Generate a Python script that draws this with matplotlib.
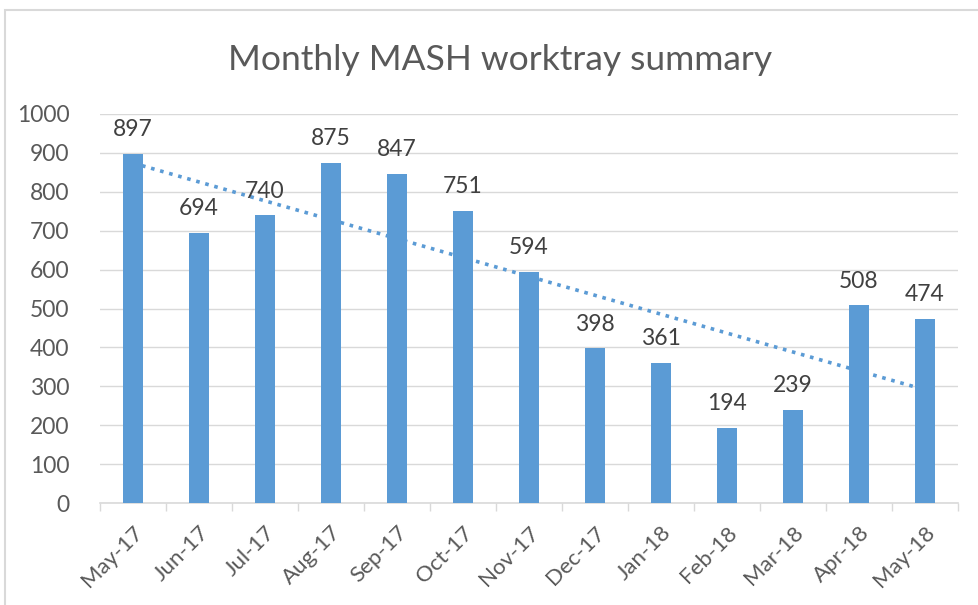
import numpy as np
import matplotlib.pyplot as plt
from matplotlib.patches import Rectangle

# chart data
months = ["May-17", "Jun-17", "Jul-17", "Aug-17", "Sep-17", "Oct-17", "Nov-17",
          "Dec-17", "Jan-18", "Feb-18", "Mar-18", "Apr-18", "May-18"]
counts = [897, 694, 740, 875, 847, 751, 594, 398, 361, 194, 239, 508, 474]
yticks = [0, 100, 200, 300, 400, 500, 600, 700, 800, 900, 1000]

plt.rcParams['font.family'] = ['Lato', 'DejaVu Sans']
grey = '#595959'
blue = '#5b9bd5'

fig = plt.figure(figsize=(9.79, 6.05), dpi=100)

# light chart frame (cut off on the right and bottom)
fig.patches.append(Rectangle((5/979, -0.1), 1.1, 1 - 10/605 + 0.1,
                             transform=fig.transFigure, fill=False,
                             edgecolor='#d9d9d9', linewidth=1.5))

ax = fig.add_axes([100/979, 1 - 503/605, 858/979, 389/605])

x = np.arange(len(months))
ax.bar(x, counts, width=0.3, color=blue, zorder=4)

# linear trendline, like Excel's (drawn behind the bars)
k, b = np.polyfit(x, counts, 1)
ax.plot(x, k*x + b, linestyle=(0, (1, 1.6)), color=blue, linewidth=2.6,
        zorder=3)

for xi, v in zip(x, counts):
    ax.text(xi, v + 35, str(v), ha='center', va='bottom', fontsize=16.5,
            color='#404040')

ax.set_xlim(-0.5, len(months) - 0.5)
ax.set_ylim(0, 1000)
ax.set_yticks(yticks)
ax.set_yticklabels([str(t) for t in yticks], fontsize=16.5, color=grey)
ax.set_xticks(x)
ax.set_xticklabels(months, rotation=45, ha='right', rotation_mode='anchor',
                   fontsize=16, color=grey)
ax.tick_params(axis='x', length=0, pad=14)
ax.tick_params(axis='y', length=0, pad=22)
ax.set_xticks(np.arange(-0.5, len(months)), minor=True)
ax.tick_params(axis='x', which='minor', length=6, color='#d9d9d9', width=1)

ax.grid(axis='y', color='#d9d9d9', linewidth=1, zorder=0)
for s in ['top', 'right', 'left']:
    ax.spines[s].set_visible(False)
ax.spines['bottom'].set_color('#d9d9d9')
ax.spines['bottom'].set_linewidth(1.2)

fig.text(500/979, 1 - 60/605, "Monthly MASH worktray summary", ha='center',
         va='center', fontsize=25.5, color=grey)

fig.savefig('out.png', dpi=100)
